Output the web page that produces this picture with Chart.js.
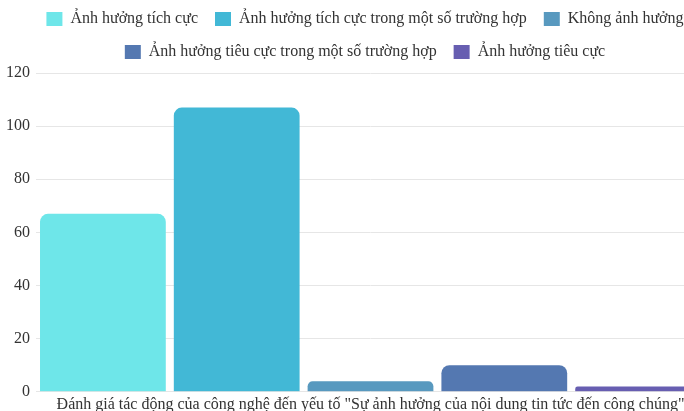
<!DOCTYPE html>
<html>
<head>
<meta charset="utf-8">
<script src="https://cdn.jsdelivr.net/npm/chart.js"></script>
<style>
  html, body { margin: 0; padding: 0; background: #fff; overflow: hidden; }
  #wrap { width: 730px; height: 417px; }
</style>
</head>
<body>
<div id="wrap"><canvas id="chartCanvas"></canvas></div>
<script>
// Nhãn trục x (một nhóm duy nhất)
const labels = ['Đánh giá tác động của công nghệ đến yếu tố "Sự ảnh hưởng của nội dung tin tức đến công chúng"'];

// Tên các chuỗi dữ liệu
const seriesNames = [
    'Ảnh hưởng tích cực',
    'Ảnh hưởng tích cực trong một số trường hợp',
    'Không ảnh hưởng',
    'Ảnh hưởng tiêu cực trong một số trường hợp',
    'Ảnh hưởng tiêu cực'
];

// Giá trị từng chuỗi
const seriesValues = [67, 107, 4, 10, 2];

// Màu cột
const seriesColors = ['#6ee6e9', '#42b8d6', '#5899bf', '#5478b1', '#675eb1'];

// Nhãn trục y
const yTicks = [0, 20, 40, 60, 80, 100, 120];

const datasets = seriesNames.map((name, i) => ({
    label: name,
    data: [seriesValues[i]],
    backgroundColor: seriesColors[i],
    borderRadius: 8,
    barPercentage: 0.94,
    categoryPercentage: 1
}));

const font = { family: '"Liberation Serif", serif', size: 16 };

// Thêm chút khoảng trống dưới chú thích
const legendGap = {
    id: 'legendGap',
    beforeLayout(chart) {
        const legend = chart.legend;
        if (legend && !legend._gapWrapped) {
            const origFit = legend.fit;
            legend.fit = function () {
                origFit.call(this);
                this.height += 3;
            };
            legend._gapWrapped = true;
        }
    }
};

const ctx = document.getElementById('chartCanvas').getContext('2d');
new Chart(ctx, {
    type: 'bar',
    data: { labels: labels, datasets: datasets },
    plugins: [legendGap],
    options: {
        responsive: true,
        maintainAspectRatio: false,
        animation: false,
        layout: { padding: { top: -6, right: 0, left: 0, bottom: 0 } },
        plugins: {
            legend: {
                display: true,
                position: 'top',
                labels: {
                    font: font,
                    color: '#333',
                    boxWidth: 16,
                    boxHeight: 14,
                    padding: 17
                }
            },
            tooltip: { enabled: false }
        },
        scales: {
            x: {
                grid: { display: false, drawTicks: false },
                border: { display: false },
                ticks: { font: font, color: '#333', padding: 3 }
            },
            y: {
                min: 0,
                max: 120,
                afterBuildTicks: (axis) => { axis.ticks = yTicks.map(v => ({ value: v })); },
                grid: { color: '#e6e6e6', drawTicks: false },
                border: { display: false },
                ticks: { font: font, color: '#333', padding: 6 }
            },
            // trục phụ bên phải chỉ để chừa khoảng trống
            yRight: {
                position: 'right',
                display: true,
                grid: { display: false, drawTicks: false },
                border: { display: false },
                ticks: { display: false },
                afterFit: (axis) => { axis.width = 25; }
            }
        }
    }
});
</script>
</body>
</html>
